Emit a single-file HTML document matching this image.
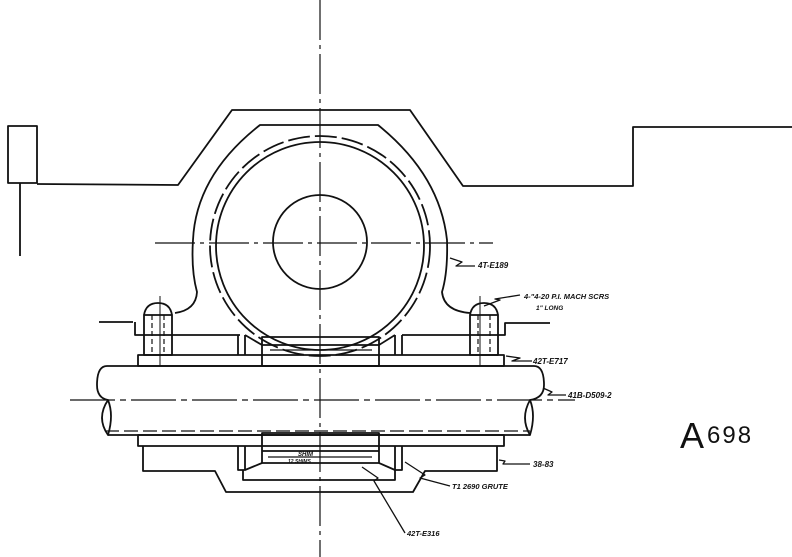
<!DOCTYPE html>
<html><head><meta charset="utf-8"><style>
html,body{margin:0;padding:0;background:#fff}
svg{display:block}
text{font-family:"Liberation Sans",sans-serif;font-style:italic;font-weight:bold;fill:#111}
</style></head><body>
<svg width="792" height="557" viewBox="0 0 792 557" xmlns="http://www.w3.org/2000/svg">
<g fill="none" stroke="#111" stroke-width="1.8" stroke-linejoin="round">
<!-- center lines -->
<line x1="320" y1="0" x2="320" y2="557" stroke-width="1.2" stroke-dasharray="40,5,4,5"/>
<line x1="155" y1="243" x2="493" y2="243" stroke-width="1.2" stroke-dasharray="40,5,4,5"/>
<line x1="70" y1="400" x2="575" y2="400" stroke-width="1.2" stroke-dasharray="45,5,6,5"/>
<!-- left box -->
<rect x="8" y="126" width="29" height="57"/>
<line x1="20" y1="183" x2="20" y2="256"/>
<!-- top profile -->
<polyline points="37,184 178,185 232,110 410,110 463,186 633,186 633,127 792,127"/>
<!-- housing -->
<path d="M175,313 Q196,310 197,292 Q191,270 193,240 Q196,175 260,125 L378,125 Q440,175 447,240 Q448,272 442,292 Q444,311 470,313"/>
<!-- circles -->
<circle cx="320" cy="246" r="104"/>
<circle cx="320" cy="246" r="110" stroke-dasharray="22,5"/>
<circle cx="320" cy="242" r="47"/>
<!-- bolts -->
<path d="M144,315 Q146,303 158,303 Q170,303 172,315"/>
<rect x="144" y="315" width="28" height="40"/>
<line x1="152" y1="315" x2="152" y2="355" stroke-dasharray="5,3" stroke-width="1.2"/>
<line x1="164" y1="315" x2="164" y2="355" stroke-dasharray="5,3" stroke-width="1.2"/>
<line x1="160" y1="296" x2="160" y2="366" stroke-width="1"/>
<path d="M470,315 Q472,303 484,303 Q496,303 498,315"/>
<rect x="470" y="315" width="28" height="40"/>
<line x1="478" y1="315" x2="478" y2="355" stroke-dasharray="5,3" stroke-width="1.2"/>
<line x1="490" y1="315" x2="490" y2="355" stroke-dasharray="5,3" stroke-width="1.2"/>
<line x1="480" y1="296" x2="480" y2="366" stroke-width="1"/>
<!-- upper base -->
<line x1="99" y1="322" x2="133" y2="322"/>
<polyline points="135,322 135,335 240,335"/>
<polyline points="550,323 505,323 505,335 402,335"/>
<polyline points="238,335 238,355"/><polyline points="245,335 245,355"/>
<polyline points="395,335 395,355"/><polyline points="402,335 402,355"/>
<line x1="245" y1="335" x2="262" y2="345"/><line x1="395" y1="335" x2="379" y2="345"/>
<rect x="138" y="355" width="366" height="11"/>
<rect x="262" y="337" width="117" height="29"/>
<line x1="262" y1="345" x2="379" y2="345"/>
<line x1="270" y1="350" x2="372" y2="350" stroke-width="1.2"/>
<!-- shaft -->
<path d="M107,366 L534,366 Q544,366 544,385 Q544,398 530,400 M107,366 Q97,366 97,385 Q97,398 108,400"/>
<path d="M108,400 Q114,415 108,435 Q96,418 108,400 Z"/>
<path d="M530,400 Q536,415 530,435 Q520,418 530,400 Z"/>
<line x1="108" y1="435" x2="530" y2="435"/>
<line x1="105" y1="431" x2="530" y2="431" stroke-dasharray="14,5" stroke-width="1.3"/>
<!-- lower -->
<rect x="138" y="435" width="366" height="11"/>
<polyline points="143,446 143,471 215,471 226,492 413,492 425,471 497,471 497,446"/>
<polyline points="238,446 238,470 245,470 245,446"/>
<polyline points="395,446 395,470 402,470 402,446"/>
<polyline points="243,470 243,480 395,480 395,470"/>
<rect x="262" y="433" width="117" height="30"/>
<line x1="262" y1="451" x2="379" y2="451"/>
<line x1="268" y1="457" x2="372" y2="457" stroke-width="1.2"/>
<line x1="262" y1="463" x2="245" y2="470"/><line x1="379" y1="463" x2="395" y2="470"/>
<!-- leaders -->
<polyline points="450,258 462,262 456,266 475,266" stroke-width="1.3"/>
<polyline points="484,306 500,300 495,299 520,295" stroke-width="1.3"/>
<polyline points="506,356 520,358 512,361 532,361" stroke-width="1.3"/>
<polyline points="543,388 552,392 548,395 566,395" stroke-width="1.3"/>
<polyline points="499,460 505,461 503,464 530,464" stroke-width="1.3"/>
<polyline points="405,462 425,475 420,478 450,486" stroke-width="1.3"/>
<polyline points="362,467 378,478 374,481 405,533" stroke-width="1.3"/>
</g>
<text x="478" y="268" font-size="8">4T-E189</text>
<text x="524" y="299" font-size="7.5">4-"4-20 P.I.  MACH SCRS</text>
<text x="536" y="310" font-size="6.5">1" LONG</text>
<text x="533" y="364" font-size="8">42T-E717</text>
<text x="568" y="398" font-size="8">41B-D509-2</text>
<text x="533" y="467" font-size="8">38-83</text>
<text x="452" y="489" font-size="7.5">T1 2690 GRUTE</text>
<text x="407" y="536" font-size="7.5">42T-E316</text>
<text x="298" y="456" font-size="6">SHIM</text>
<text x="288" y="463" font-size="5">12 SHIMS</text>
<text x="680" y="448" font-size="36" style="font-style:normal;font-weight:normal;font-family:'Liberation Sans',sans-serif">A</text>
<text x="707" y="443" font-size="24" letter-spacing="2" style="font-style:normal;font-weight:normal;font-family:'Liberation Sans',sans-serif">698</text>
</svg>
</body></html>
